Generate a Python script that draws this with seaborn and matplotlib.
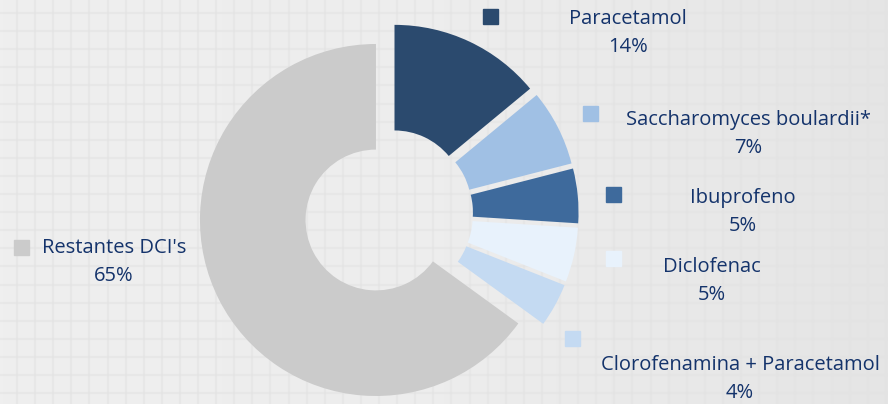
import numpy as np
import matplotlib.pyplot as plt
from matplotlib.patches import Rectangle
import seaborn as sns

# data
drugs = ['Paracetamol', 'Saccharomyces boulardii*', 'Ibuprofeno', 'Diclofenac',
         'Clorofenamina + Paracetamol', "Restantes DCI's"]
shares = [14, 7, 5, 5, 4, 65]
colors = ['#2B4A6E', '#A0C0E4', '#3E6A9C', '#E8F2FC', '#C4DAF2', '#CBCBCB']

sns.set_theme(style='white')
plt.rcParams['font.family'] = ['Open Sans', 'DejaVu Sans']

W, H = 888, 404
fig = plt.figure(figsize=(W / 100, H / 100), dpi=100)

# background: light gray with faint square grid, slightly darker to the right
bg = fig.add_axes([0, 0, 1, 1], zorder=0)
grad = np.linspace(0, 1, 256)[None, :]
bg.imshow(grad, extent=[0, W, H, 0], aspect='auto',
          cmap=sns.blend_palette(['#EFEFEF', '#EDEDED', '#E5E5E5'], as_cmap=True))
bg.set_xlim(0, W)
bg.set_ylim(H, 0)
for gx in np.arange(17, W, 18.1):
    bg.axvline(gx, color='#E3E3E3', lw=1.5, alpha=0.55)
for gy in np.arange(13, H, 18.1):
    bg.axhline(gy, color='#E3E3E3', lw=1.5, alpha=0.55)
bg.axis('off')

# donut
R = 176.0
cx, cy = 388.5, 213.6
ax = fig.add_axes([0, 0, 1, 1], zorder=1)
ax.set_facecolor('none')
ax.pie(shares, colors=colors, startangle=-90, counterclock=True,
       explode=[0.08] * len(shares), radius=1,
       wedgeprops=dict(width=0.6, linewidth=0))
ax.set_aspect('auto')
ax.set_xlim(-cx / R, (W - cx) / R)
ax.set_ylim((H - cy) / R, -cy / R)
ax.axis('off')

# labels: (marker x, marker y, text centre x, first line y)
label_pos = [(483, 9, 628, 19), (583, 106, 748, 120), (606, 187, 743, 198),
             (606, 251, 712, 267), (565, 331, 740, 365), (14, 240, 114, 248)]
txt_color = '#14336B'
for name, pct, col, (mx, my, tx, ty) in zip(drugs, shares, colors, label_pos):
    fig.add_artist(Rectangle((mx / W, 1 - (my + 15) / H), 15 / W, 15 / H,
                             transform=fig.transFigure, color=col, zorder=3))
    fig.text(tx / W, 1 - ty / H, name, ha='center', va='center',
             fontsize=14.5, color=txt_color, zorder=3)
    fig.text(tx / W, 1 - (ty + 28) / H, f'{pct}%', ha='center', va='center',
             fontsize=14.5, color=txt_color, zorder=3)

fig.savefig('out.png', dpi=100)
